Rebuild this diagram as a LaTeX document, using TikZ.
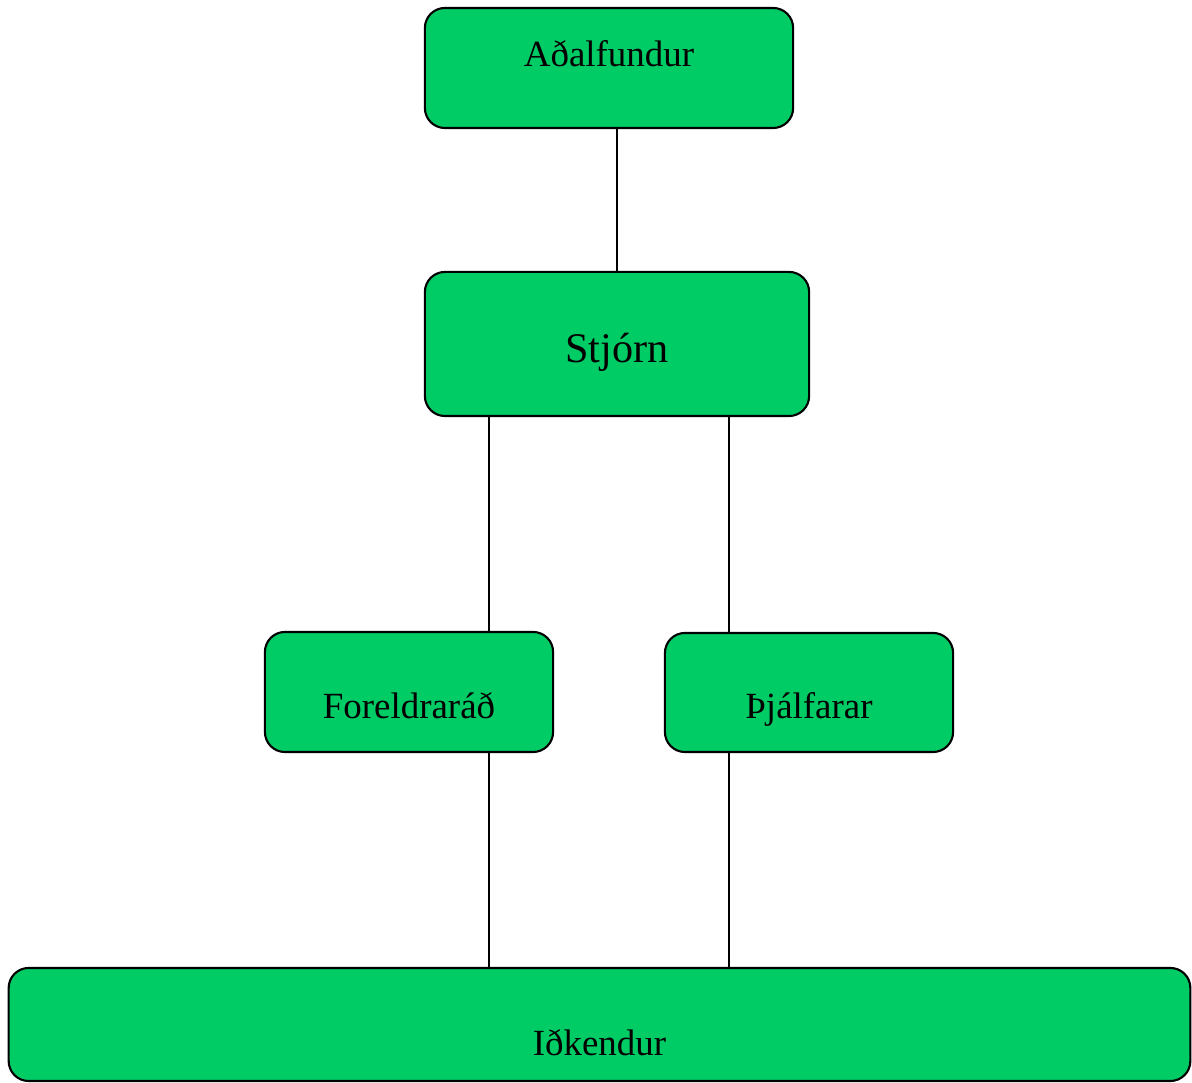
\documentclass[tikz,border=0pt]{standalone}
\usepackage{fontspec}
\setmainfont{Liberation Serif}
\definecolor{boxgreen}{HTML}{00CC66}
\tikzset{
  orgbox/.style={draw=black, line width=0.6pt, fill=boxgreen, rectangle,
    rounded corners=0.2cm, inner xsep=0pt, inner ysep=0pt, anchor=base,
    font=\fontsize{10.5}{12}\selectfont},
  orgline/.style={draw=black, line width=0.4pt}
}

\begin{document}
\begin{tikzpicture}[x=0.01cm, y=-0.01cm]
  % fixes the page to the reference size:
  \useasboundingbox (0,0) rectangle (1192,1083);

  \node[orgbox, minimum width=3.68cm, text height=0.59cm, text depth=0.61cm]
    (adal) at (609,67) {Aðalfundur};
  \node[orgbox, minimum width=3.84cm, text height=0.91cm, text depth=0.53cm,
    font=\fontsize{12}{14}\selectfont]
    (stjorn) at (617,363) {Stjórn};
  \node[orgbox, minimum width=2.88cm, text height=0.86cm, text depth=0.34cm]
    (foreldr) at (409,718) {Foreldraráð};
  \node[orgbox, minimum width=2.88cm, text height=0.85cm, text depth=0.34cm]
    (thjalf) at (809,718) {Þjálfarar};
  \node[orgbox, minimum width=11.81cm, text height=0.87cm, text depth=0.26cm]
    (idk) at (599.5,1055) {Iðkendur};

  % the two columns of connectors:
  \coordinate (colL) at (489,0);
  \coordinate (colR) at (729,0);

  \draw[orgline] (stjorn.north) -- (stjorn.north |- adal.south);
  \draw[orgline] (colL |- stjorn.south) -- (colL |- foreldr.north);
  \draw[orgline] (colR |- stjorn.south) -- (colR |- thjalf.north);
  \draw[orgline] (colL |- foreldr.south) -- (colL |- idk.north);
  \draw[orgline] (colR |- thjalf.south) -- (colR |- idk.north);
\end{tikzpicture}
\end{document}
